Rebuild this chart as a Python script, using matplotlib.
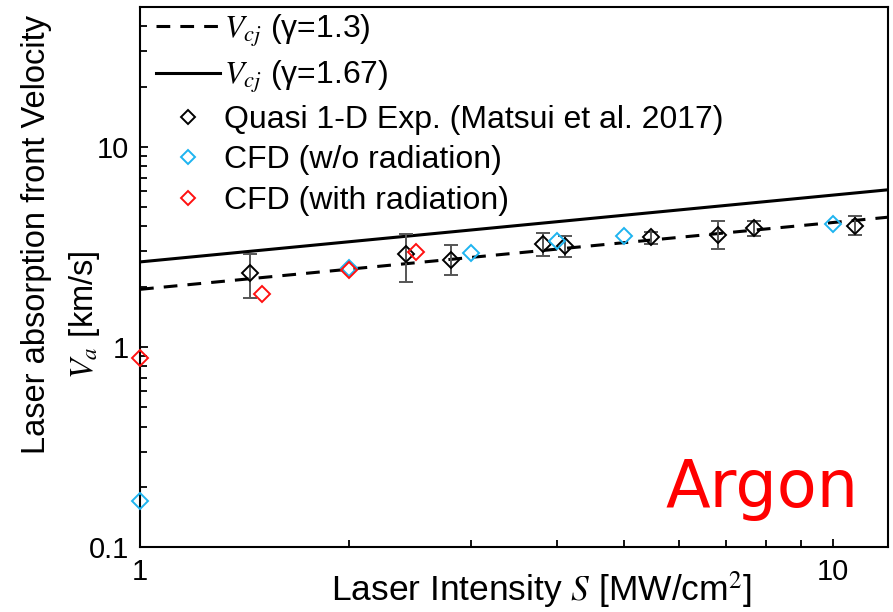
import matplotlib
matplotlib.use("Agg")
import matplotlib.pyplot as plt
from matplotlib.ticker import LogLocator, NullFormatter, FixedLocator, FixedFormatter

plt.rcParams['font.family'] = ['Liberation Sans', 'DejaVu Sans']
plt.rcParams['mathtext.fontset'] = 'stix'

# Theoretical V_cj lines (endpoints)
S_line = [1, 12]
V_cj_13 = [1.94, 4.45]
V_cj_167 = [2.66, 6.1]

# Quasi 1-D experiment (Matsui et al. 2017)
S_exp = [1.44, 2.42, 2.81, 3.81, 4.1, 5.46, 6.83, 7.7, 10.76]
V_exp = [2.34, 2.93, 2.73, 3.28, 3.18, 3.53, 3.64, 3.95, 4.03]
V_exp_hi = [2.93, 3.68, 3.22, 3.71, 3.60, 3.75, 4.24, 4.24, 4.52]
V_exp_lo = [1.76, 2.11, 2.28, 2.84, 2.80, 3.27, 3.10, 3.57, 3.61]

# CFD without radiation
S_cfd = [1, 2, 3, 4, 5, 10]
V_cfd = [0.169, 2.48, 2.94, 3.40, 3.60, 4.13]

# CFD with radiation
S_rad = [1, 1.5, 2, 2.5]
V_rad = [0.88, 1.84, 2.42, 2.97]

fig = plt.figure(figsize=(8.93, 6.12), dpi=100)
ax = fig.add_axes([140/893, 1-547/612, (888-140)/893, (547-7)/612])

ax.set_xscale('log')
ax.set_yscale('log')
ax.set_xlim(1, 12)
ax.set_ylim(0.1, 50)

ax.plot(S_line, V_cj_13, color='black', lw=2.2, linestyle=(0, (4.5, 3.3)),
        label=r'$V_{cj}$ (γ=1.3)', zorder=2)
ax.plot(S_line, V_cj_167, color='black', lw=2.2, linestyle='-',
        label=r'$V_{cj}$ (γ=1.67)', zorder=2)

yerr = [[v - lo for v, lo in zip(V_exp, V_exp_lo)],
        [hi - v for v, hi in zip(V_exp, V_exp_hi)]]
ax.errorbar(S_exp, V_exp, yerr=yerr, fmt='none', ecolor='#555555',
            elinewidth=1.4, capsize=5, capthick=1.4, zorder=3)
ax.plot(S_exp, V_exp, linestyle='none', marker='D', markersize=8,
        markerfacecolor='none', markeredgecolor='black', markeredgewidth=1.4,
        label='Quasi 1-D Exp. (Matsui et al. 2017)', zorder=4)
ax.plot(S_cfd, V_cfd, linestyle='none', marker='D', markersize=8,
        markerfacecolor='none', markeredgecolor='#1EB4F0', markeredgewidth=1.4,
        label='CFD (w/o radiation)', zorder=4, clip_on=False)
ax.plot(S_rad, V_rad, linestyle='none', marker='D', markersize=8,
        markerfacecolor='none', markeredgecolor='#FF1010', markeredgewidth=1.4,
        label='CFD (with radiation)', zorder=4, clip_on=False)

for s in ax.spines.values():
    s.set_linewidth(1.5)

ax.xaxis.set_major_locator(FixedLocator([1, 10]))
ax.xaxis.set_major_formatter(FixedFormatter(['1', '10']))
ax.xaxis.set_minor_locator(LogLocator(base=10, subs=range(2, 10)))
ax.xaxis.set_minor_formatter(NullFormatter())
ax.yaxis.set_major_locator(FixedLocator([0.1, 1, 10]))
ax.yaxis.set_major_formatter(FixedFormatter(['0.1', '1', '10']))
ax.yaxis.set_minor_locator(LogLocator(base=10, subs=range(2, 10)))
ax.yaxis.set_minor_formatter(NullFormatter())
ax.tick_params(which='both', direction='in', top=False, right=False,
               width=1.3, labelsize=21)
ax.tick_params(which='major', length=6)
ax.tick_params(which='minor', length=5)
ax.tick_params(axis='x', which='major', pad=8)
ax.tick_params(axis='y', which='major', pad=8)

leg = ax.legend(loc='upper left', bbox_to_anchor=(0.004, 1.014), frameon=False,
                fontsize=23, handlelength=2.0, handletextpad=0.13,
                labelspacing=0.32, borderaxespad=0.2, borderpad=0.2,
                markerscale=0.9)

fig.text(541/893, 1-590/612, r'Laser Intensity $S$ [MW/cm$^2$]', fontsize=25.5,
         ha='center', va='center')
fig.text(37/893, 1-234/612, 'Laser absorption front Velocity', fontsize=23.5,
         rotation=90, ha='center', va='center')
fig.text(85/893, 1-315/612, r'$V_a$ [km/s]', fontsize=23.5,
         rotation=90, ha='center', va='center')
fig.text(858/893, 1-507/612, 'Argon', fontsize=47, color='#FF0000',
         family='DejaVu Sans', ha='right', va='baseline')

fig.savefig('out.png', dpi=100)
